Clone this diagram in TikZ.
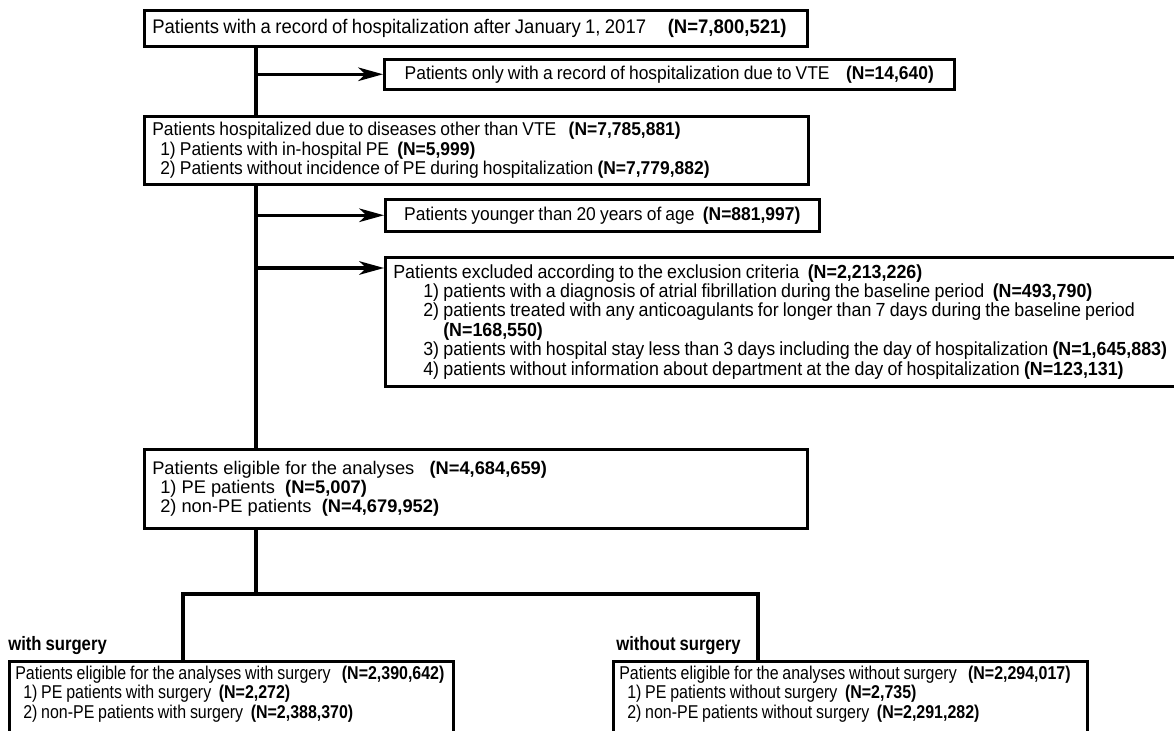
\documentclass[tikz,border=0pt]{standalone}
\usepackage{fontspec}
\setmainfont{Liberation Sans}
\newfontfamily\condfont[FakeStretch=0.94, WordSpace=0.85]{Liberation Sans}
\newfontfamily\narrfont[FakeStretch=0.86, WordSpace=0.85]{Liberation Sans}
\usetikzlibrary{arrows.meta,positioning}

\tikzset{
  box/.style={draw, line width=1.8pt, anchor=north west, align=flush left, inner xsep=0.2cm,
              execute at begin node={\spaceskip=0pt\xspaceskip=0pt},
              font=\condfont\fontsize{13.2}{13.8}\selectfont},
  onebox/.style={box, align=center},
  topbox/.style={box, font=\condfont\fontsize{14}{13.8}\selectfont},
  exbox/.style={box, font=\condfont\fontsize{13.5}{13.8}\selectfont},
  widebox/.style={box, font=\fontsize{13}{13.8}\selectfont},
  grpbox/.style={box, inner xsep=0.15cm, font=\narrfont\fontsize{13.2}{13.8}\selectfont},
  lbl/.style={inner sep=0pt, font=\narrfont\fontsize{13.8}{13.8}\selectfont\bfseries},
  conn/.style={line width=2.2pt},
  arr/.style={conn, -{Stealth[length=0.62cm, width=0.34cm, inset=0.18cm]}},
}
\newcommand{\ind}{\hspace*{0.2cm}}
\newcommand{\indx}{\hspace*{0.75cm}}

\begin{document}
\begin{tikzpicture}
  \useasboundingbox (0,0) rectangle (29.35,-18.275);
  % inclusion / exclusion boxes
  \node[topbox, text width=16.175cm, minimum height=0.9cm] (rec) at (3.575,-0.225)
       {Patients with a record of hospitalization after January 1, 2017\hspace{1.1em}\textbf{(N=7,800,521)}};
  \node[onebox, minimum width=14.25cm, minimum height=0.75cm] (vte) at (9.575,-1.45)
       {Patients only with a record of hospitalization due to VTE~~~~\textbf{(N=14,640)}};
  \node[box, text width=16.2cm, minimum height=1.7cm] (oth) at (3.575,-2.875)
       {Patients hospitalized due to diseases other than VTE~~~\textbf{(N=7,785,881)}\\
        \ind 1) Patients with in-hospital PE~~\textbf{(N=5,999)}\\
        \ind 2) Patients without incidence of PE during hospitalization \textbf{(N=7,779,882)}};
  \node[onebox, minimum width=10.85cm, minimum height=0.8cm] (young) at (9.6,-4.95)
       {Patients younger than 20 years of age~~\textbf{(N=881,997)}};
  \node[exbox, text width=21cm, minimum height=3.225cm] (excl) at (9.6,-6.4)
       {Patients excluded according to the exclusion criteria~~\textbf{(N=2,213,226)}\\
        \indx 1) patients with a diagnosis of atrial fibrillation during the baseline period~~\textbf{(N=493,790)}\\
        \indx 2) patients treated with any anticoagulants for longer than 7 days during the baseline period\\
        \hspace*{1.25cm}\textbf{(N=168,550)}\\
        \indx 3) patients with hospital stay less than 3 days including the day of hospitalization \textbf{(N=1,645,883)}\\
        \indx 4) patients without information about department at the day of hospitalization \textbf{(N=123,131)}};
  \node[widebox, text width=16.175cm, minimum height=1.975cm] (elig) at (3.575,-11.2)
       {Patients eligible for the analyses~~~\textbf{(N=4,684,659)}\\
        \ind 1) PE patients~~\textbf{(N=5,007)}\\
        \ind 2) non-PE patients~~\textbf{(N=4,679,952)}};
  % the two groups (cut off at the bottom)
  \node[grpbox, text width=10.8cm, text depth=3cm] (ws) at (0.2,-16.5)
       {Patients eligible for the analyses with surgery~~~\textbf{(N=2,390,642)}\\
        \ind 1) PE patients with surgery~~\textbf{(N=2,272)}\\
        \ind 2) non-PE patients with surgery~~\textbf{(N=2,388,370)}};
  \node[grpbox, text width=11.55cm, text depth=3cm] (wos) at (15.3,-16.5)
       {Patients eligible for the analyses without surgery~~~\textbf{(N=2,294,017)}\\
        \ind 1) PE patients without surgery~~\textbf{(N=2,735)}\\
        \ind 2) non-PE patients without surgery~~\textbf{(N=2,291,282)}};
  \node[lbl, above right=0.12cm and 0cm of ws.north west] (wslbl) {with surgery};
  \node[lbl, above right=0.12cm and 0.1cm of wos.north west] (woslbl) {without surgery};
  % trunk
  \coordinate (split) at (6.4,-14.85);
  \coordinate (ex) at (6.4,-6.7);
  \coordinate (brL) at (4.575,-14.85);
  \coordinate (brR) at (18.95,-14.85);
  \draw[conn] (rec.south -| split) -- (oth.north -| split);
  \draw[conn] (oth.south -| split) -- (elig.north -| split);
  \draw[conn] (elig.south -| split) -- (split);
  \draw[arr] (vte.west -| split) -- (vte.west);
  \draw[arr] (young.west -| split) -- (young.west);
  \draw[arr] (ex) -- (ex -| excl.west);
  \draw[conn] (brL |- ws.north) -- (brL) -- (brR) -- (brR |- wos.north);
\end{tikzpicture}
\end{document}
